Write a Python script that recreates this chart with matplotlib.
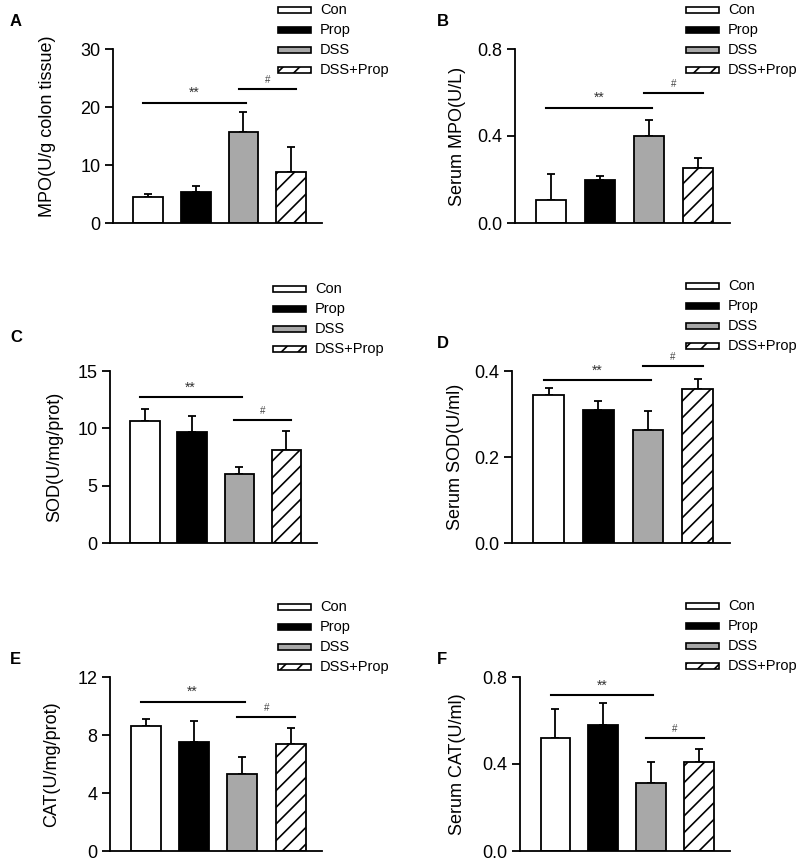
import matplotlib
matplotlib.use("Agg")
import matplotlib.pyplot as plt
from matplotlib.patches import Rectangle

W, H = 800, 861

groups = ["Con", "Prop", "DSS", "DSS+Prop"]

mpo_colon = [4.4, 5.35, 15.7, 8.75]
mpo_colon_err = [0.65, 1.05, 3.4, 4.3]
mpo_serum = [0.106, 0.200, 0.401, 0.252]
mpo_serum_err = [0.121, 0.015, 0.072, 0.048]
sod_colon = [10.6, 9.7, 6.05, 8.1]
sod_colon_err = [1.05, 1.4, 0.6, 1.7]
sod_serum = [0.344, 0.309, 0.263, 0.357]
sod_serum_err = [0.017, 0.021, 0.045, 0.025]
cat_colon = [8.6, 7.5, 5.3, 7.36]
cat_colon_err = [0.53, 1.49, 1.15, 1.12]
cat_serum = [0.518, 0.580, 0.314, 0.409]
cat_serum_err = [0.133, 0.102, 0.097, 0.059]

# significance bar heights (data units): "**" Con vs DSS, "#" DSS vs DSS+Prop
star_y = [20.7, 0.53, 12.7, 0.378, 10.3, 0.715]
hash_y = [23.15, 0.597, 10.75, 0.411, 9.24, 0.52]

ylabels = ["MPO(U/g colon tissue)", "Serum MPO(U/L)", "SOD(U/mg/prot)",
           "Serum SOD(U/ml)", "CAT(U/mg/prot)", "Serum CAT(U/ml)"]
yticks = [[0, 10, 20, 30], [0.0, 0.4, 0.8], [0, 5, 10, 15],
          [0.0, 0.2, 0.4], [0, 4, 8, 12], [0.0, 0.4, 0.8]]
ticklabels = [["0", "10", "20", "30"], ["0.0", "0.4", "0.8"],
              ["0", "5", "10", "15"], ["0.0", "0.2", "0.4"],
              ["0", "4", "8", "12"], ["0.0", "0.4", "0.8"]]
letters = ["A", "B", "C", "D", "E", "F"]

means = [mpo_colon, mpo_serum, sod_colon, sod_serum, cat_colon, cat_serum]
errs = [mpo_colon_err, mpo_serum_err, sod_colon_err, sod_serum_err,
        cat_colon_err, cat_serum_err]

# axes boxes in pixels: left, right, top, bottom
boxes = [(113, 322, 49, 223), (515, 730, 49, 223),
         (110, 317, 371, 543), (512, 730, 371, 543),
         (110, 322, 677, 851), (520, 730, 677, 851)]
legend_top = [10, 10, 289, 286, 607, 606]
letter_pos = [(10, 22), (437, 22), (10, 337), (437, 343), (10, 659), (437, 659)]
ylabel_x = [48, 457, 55, 455, 52, 457]

FILL = ["white", "black", "#a8a8a8", "white"]
HATCH = [None, None, None, "//"]

plt.rcParams.update({
    "font.family": "Liberation Sans", "font.size": 12,
    "hatch.linewidth": 1.2, "axes.linewidth": 1.3,
})

fig = plt.figure(figsize=(W / 100, H / 100), dpi=100)


def fx(px):
    return px / W


def fy(py):
    return 1 - py / H


for i in range(6):
    l, r, t, b = boxes[i]
    ax = fig.add_axes([fx(l), fy(b), fx(r) - fx(l), fy(t) - fy(b)])
    x = range(len(groups))
    for j in x:
        ax.bar(j, means[i][j], 0.62, color=FILL[j], edgecolor="black",
               linewidth=1.3, hatch=HATCH[j], zorder=2)
    ax.errorbar(list(x), means[i], yerr=[[0] * 4, errs[i]], fmt="none",
                ecolor="black", elinewidth=1.3, capsize=2.6, capthick=1.3,
                zorder=1)
    ax.set_xlim(-0.74, 3.65)
    ax.set_ylim(yticks[i][0], yticks[i][-1])
    ax.set_yticks(yticks[i])
    ax.set_yticklabels(ticklabels[i], fontsize=13)
    ax.set_xticks([])
    ax.tick_params(axis="y", direction="out", length=6, width=1.3, pad=3)
    for s in ("top", "right"):
        ax.spines[s].set_visible(False)

    ax.plot([-0.1, 2.05], [star_y[i]] * 2, color="black", lw=1.5, clip_on=False)
    ax.plot([1.9, 3.1], [hash_y[i]] * 2, color="black", lw=1.5, clip_on=False)
    ax.annotate("**", (0.97, star_y[i]), xytext=(0, 2), textcoords="offset points",
                ha="center", va="bottom", fontsize=10, color="#333333",
                annotation_clip=False)
    ax.annotate("#", (2.5, hash_y[i]), xytext=(0, 3), textcoords="offset points",
                ha="center", va="bottom", fontsize=7, color="#444444",
                annotation_clip=False)

    fig.text(fx(ylabel_x[i]), fy((t + b) / 2 - (10 if i == 0 else 0)),
             ylabels[i], rotation=90, ha="center", va="center", fontsize=13)
    fig.text(fx(letter_pos[i][0]), fy(letter_pos[i][1]), letters[i],
             ha="left", va="center", fontsize=12, fontweight="bold")

    # legend drawn by hand so its placement follows the reference
    lx = r - 44
    for k, g in enumerate(groups):
        cy = legend_top[i] + 20 * k
        fig.patches.append(Rectangle((fx(lx), fy(cy + 3)), fx(33), 6 / H,
                                     transform=fig.transFigure,
                                     facecolor=FILL[k], edgecolor="black",
                                     linewidth=1.2, hatch=HATCH[k]))
        fig.text(fx(lx + 42), fy(cy), g, ha="left", va="center", fontsize=10.5)

fig.savefig("out.png", dpi=100)
